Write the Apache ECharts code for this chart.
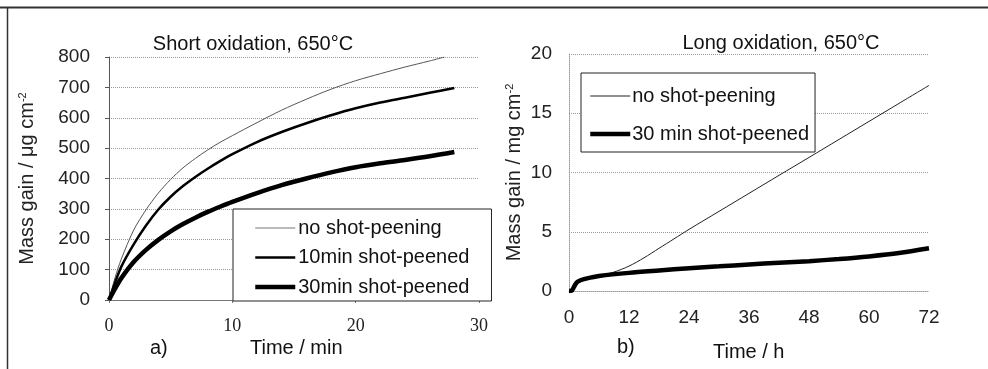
<!DOCTYPE html>
<html>
<head>
<meta charset="utf-8">
<script src="https://cdn.jsdelivr.net/npm/echarts@6/dist/echarts.min.js"></script>
<style>
html, body { margin: 0; padding: 0; background: #fff; }
#main { width: 988px; height: 369px; }
</style>
</head>
<body>
<div id="main"></div>
<script>
// a) short oxidation, time in min, mass gain in µg/cm2
var shortNoPeen = [[0,0],[0.5,75],[1,135],[2,230],[3,297],[4,352],[5,397],[6,435],[7,466],[8,494],[9,519],[10,541],[12,584],[14,625],[16,661],[18,694],[20,722],[22,745],[24,767],[26,787],[27.2,800]];
var short10min = [[0,0],[0.5,58],[1,110],[2,183],[3,245],[4,298],[5,340],[6,375],[7,405],[8,432],[9,457],[10,480],[12,520],[14,553],[16,582],[18,608],[20,631],[22,650],[24,666],[26,682],[28,698]];
var short30min = [[0,0],[0.5,38],[1,72],[2,125],[3,165],[4,198],[5,226],[6,250],[7,271],[8,290],[9,307],[10,323],[12,352],[14,378],[16,400],[18,420],[20,437],[22,450],[24,461],[26,473],[28,487]];
// b) long oxidation, time in h, mass gain in mg/cm2
var longNoPeen = [[0,0],[0.5,0.02],[1,0.35],[1.5,0.7],[2,0.85],[3,1],[6,1.28],[9,1.6],[12,2.1],[15,2.8],[18,3.6],[21,4.4],[24,5.2],[30,6.72],[36,8.24],[42,9.76],[48,11.27],[54,12.79],[60,14.31],[66,15.83],[72,17.35]];
var long30min = [[0,0],[0.5,0.02],[1,0.35],[1.5,0.7],[2,0.85],[3,1],[4.5,1.15],[6,1.27],[12,1.53],[18,1.73],[24,1.92],[30,2.08],[36,2.24],[42,2.38],[48,2.52],[54,2.7],[60,2.92],[66,3.2],[72,3.6]];

var chart = echarts.init(document.getElementById('main'));

var font = 'Liberation Sans, Arial, sans-serif';
var gridLine = { show: true, lineStyle: { color: '#999', type: [1, 1], width: 1 } };
var supStyle = { sup: { fontFamily: font, fontSize: 11, color: '#222', verticalAlign: 'top', padding: [0, 0, 9, 0] } };

option = {
    animation: false,
    backgroundColor: '#fff',
    title: [
        { text: 'Short oxidation, 650°C', left: 248, top: 29, textAlign: 'center',
          textStyle: { fontFamily: font, fontSize: 20, fontWeight: 'normal', color: '#111' } },
        { text: 'Long oxidation, 650°C', left: 776, top: 28, textAlign: 'center',
          textStyle: { fontFamily: font, fontSize: 20, fontWeight: 'normal', color: '#111' } }
    ],
    grid: [
        { left: 109, top: 57, width: 370, height: 243 },
        { left: 569, top: 54, width: 360, height: 237 }
    ],
    xAxis: [
        { type: 'value', gridIndex: 0, min: 0, max: 30, interval: 10,
          axisLine: { show: true, lineStyle: { color: '#777', width: 1 } },
          axisTick: { show: true, length: 3, lineStyle: { color: '#777' } },
          splitLine: { show: false },
          axisLabel: { margin: 17, fontFamily: 'Liberation Serif, serif', fontSize: 18, color: '#222' } },
        { type: 'value', gridIndex: 1, min: 0, max: 72, interval: 12,
          axisLine: { show: true, lineStyle: { color: '#999', type: [1, 1] } },
          axisTick: { show: false },
          splitLine: { show: false },
          axisLabel: { margin: 17, fontFamily: font, fontSize: 19, color: '#222' } }
    ],
    yAxis: [
        { type: 'value', gridIndex: 0, min: 0, max: 800, interval: 100,
          name: 'Mass gain / μg cm{sup|-2}', nameLocation: 'middle', nameGap: 72, nameRotate: 90,
          nameTextStyle: { fontFamily: font, fontSize: 20, color: '#222', rich: supStyle },
          axisLine: { show: true, lineStyle: { color: '#555', width: 1 } },
          axisTick: { show: true, length: 4, lineStyle: { color: '#555' } },
          splitLine: gridLine,
          axisLabel: { margin: 19, fontFamily: font, fontSize: 19, color: '#222' } },
        { type: 'value', gridIndex: 1, min: 0, max: 20, interval: 5,
          name: 'Mass gain / mg cm{sup|-2}', nameLocation: 'middle', nameGap: 45, nameRotate: 90,
          nameTextStyle: { fontFamily: font, fontSize: 20, color: '#222', rich: supStyle },
          axisLine: { show: true, lineStyle: { color: '#999', type: [1, 1] } },
          axisTick: { show: false },
          splitLine: gridLine,
          axisLabel: { margin: 17, fontFamily: font, fontSize: 19, color: '#222' } }
    ],
    legend: [
        { data: [
              { name: 'no shot-peening', lineStyle: { width: 1, color: '#777' } },
              { name: '10min shot-peened', lineStyle: { width: 2.5, color: '#000' } },
              { name: '30min shot-peened', lineStyle: { width: 4.5, color: '#000' } }
          ],
          orient: 'vertical', left: 233, top: 209,
          padding: [9, 22, 4, 20], itemGap: 9.5, itemWidth: 40, itemHeight: 20,
          borderColor: '#222', borderWidth: 1, backgroundColor: '#fff',
          itemStyle: { opacity: 0 },
          textStyle: { fontFamily: font, fontSize: 20, lineHeight: 20, color: '#111', padding: [0, 0, 0, -2] } },
        { data: [
              { name: 'no shot-peening ', lineStyle: { width: 1, color: '#222' } },
              { name: '30 min shot-peened', lineStyle: { width: 4.5, color: '#000' } }
          ],
          orient: 'vertical', left: 581, top: 73,
          padding: [13, 6, 8, 7], itemGap: 18, itemWidth: 40, itemHeight: 20,
          borderColor: '#222', borderWidth: 1, backgroundColor: '#fff',
          itemStyle: { opacity: 0 },
          textStyle: { fontFamily: font, fontSize: 20, lineHeight: 20, color: '#111', padding: [0, 0, 0, -3] } }
    ],
    graphic: [
        { type: 'line', shape: { x1: 0, y1: 7.5, x2: 988, y2: 7.5 }, style: { stroke: '#333', lineWidth: 2 } },
        { type: 'line', shape: { x1: 7.5, y1: 7, x2: 7.5, y2: 369 }, style: { stroke: '#333', lineWidth: 1.5 } },
        { type: 'text', left: 150, top: 338, style: { text: 'a)', font: '20px ' + font, fill: '#111' } },
        { type: 'text', left: 250, top: 338, style: { text: 'Time / min', font: '20px ' + font, fill: '#111' } },
        { type: 'text', left: 617, top: 337, style: { text: 'b)', font: '20px ' + font, fill: '#111' } },
        { type: 'text', left: 713, top: 342, style: { text: 'Time / h', font: '20px ' + font, fill: '#111' } }
    ],
    series: [
        { name: 'no shot-peening', type: 'line', xAxisIndex: 0, yAxisIndex: 0, data: shortNoPeen,
          smooth: 0.3, showSymbol: false, symbol: 'none', lineStyle: { color: '#555', width: 1 }, itemStyle: { color: '#555' } },
        { name: '10min shot-peened', type: 'line', xAxisIndex: 0, yAxisIndex: 0, data: short10min,
          smooth: 0.3, showSymbol: false, symbol: 'none', lineStyle: { color: '#000', width: 2.5 }, itemStyle: { color: '#000' } },
        { name: '30min shot-peened', type: 'line', xAxisIndex: 0, yAxisIndex: 0, data: short30min,
          smooth: 0.3, showSymbol: false, symbol: 'none', lineStyle: { color: '#000', width: 4.5 }, itemStyle: { color: '#000' } },
        { name: 'no shot-peening ', type: 'line', xAxisIndex: 1, yAxisIndex: 1, data: longNoPeen,
          smooth: 0.3, showSymbol: false, symbol: 'none', lineStyle: { color: '#222', width: 1 }, itemStyle: { color: '#222' } },
        { name: '30 min shot-peened', type: 'line', xAxisIndex: 1, yAxisIndex: 1, data: long30min,
          smooth: 0.3, showSymbol: false, symbol: 'none', lineStyle: { color: '#000', width: 4.5 }, itemStyle: { color: '#000' } }
    ]
};
chart.setOption(option);
</script>
</body>
</html>
